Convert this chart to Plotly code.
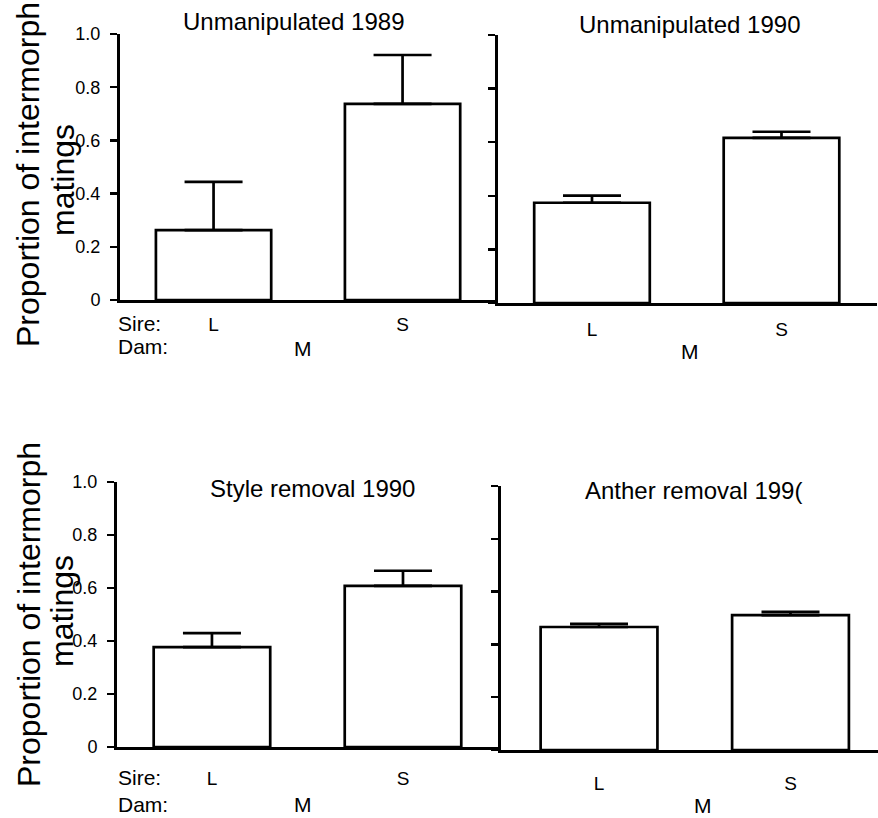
import plotly.graph_objects as go

W, H = 878, 818

# ---- data ----
sire_categories = ["L", "S"]
panel_titles = ["Unmanipulated 1989", "Unmanipulated 1990", "Style removal 1990", "Anther removal 199("]
proportion_values = [
    [0.263, 0.737],   # Unmanipulated 1989
    [0.374, 0.616],   # Unmanipulated 1990
    [0.377, 0.608],   # Style removal 1990
    [0.466, 0.511],   # Anther removal 1990
]
error_upper = [
    [0.181, 0.184],
    [0.027, 0.023],
    [0.053, 0.057],
    [0.012, 0.012],
]
y_tick_values = [0, 0.2, 0.4, 0.6, 0.8, 1.0]
y_tick_labels = ["0", "0.2", "0.4", "0.6", "0.8", "1.0"]
y_title_lines = ["Proportion of intermorph", "matings"]
dam_label = "M"

FONT = "Liberation Sans, Arial, Helvetica, sans-serif"


def fx(px):
    return px / W


def fy(py):
    return 1 - py / H


# panel geometry in pixels: (x_left, x_right, y_zero, y_one, xrange, tick standoff)
panels = [
    (120, 498, 300, 34, [-0.495, 1.505], 5),
    (498, 877, 303, 35, [-0.496, 1.504], 7),
    (117, 501, 747, 482, [-0.497, 1.513], 12),
    (501, 878, 750, 486, [-0.512, 1.457], 14),
]

fig = go.Figure()
layout = dict(
    template="none",
    width=W, height=H,
    margin=dict(l=0, r=0, t=0, b=0, pad=0, autoexpand=False),
    paper_bgcolor="white", plot_bgcolor="white",
    showlegend=False,
    font=dict(family=FONT, color="black"),
)

for i, (xl, xr, y0, y1, xr_range, standoff) in enumerate(panels):
    n = "" if i == 0 else str(i + 1)
    fig.add_trace(go.Bar(
        x=sire_categories,
        y=proportion_values[i],
        width=0.61,
        marker=dict(color="white", line=dict(color="black", width=2.7)),
        error_y=dict(type="data", symmetric=False, array=error_upper[i],
                     arrayminus=[0, 0], color="black", thickness=2.7, width=29),
        xaxis="x" + n, yaxis="y" + n,
        hoverinfo="skip",
    ))
    layout["xaxis" + n] = dict(
        domain=[fx(xl), fx(xr)], anchor="y" + n, type="category",
        range=xr_range, showline=True, linewidth=3, linecolor="black",
        ticks="", showgrid=False, zeroline=False, automargin=False,
        tickfont=dict(size=19, family=FONT, color="black"),
        ticklabelstandoff=standoff, fixedrange=True,
    )
    layout["yaxis" + n] = dict(
        domain=[fy(y0), fy(y1)], anchor="x" + n, range=[0, 1.0],
        tickvals=y_tick_values, ticktext=y_tick_labels,
        showticklabels=(i % 2 == 0),
        ticks="outside", ticklen=7, tickwidth=2.5, tickcolor="black",
        showline=True, linewidth=3, linecolor="black",
        showgrid=False, zeroline=False, automargin=False,
        tickfont=dict(size=18, family=FONT, color="black"),
        ticklabelstandoff=6, fixedrange=True,
    )

annotations = []


def ann(text, x, y, size, xanchor="center", angle=0):
    annotations.append(dict(
        text=text, x=fx(x), y=fy(y), xref="paper", yref="paper",
        xanchor=xanchor, yanchor="middle", showarrow=False, textangle=angle,
        font=dict(size=size, family=FONT, color="black"),
    ))


# panel titles
title_pos = [(294, 22), (690, 25), (312, 488), (693, 490)]
for t, (x, y) in zip(panel_titles, title_pos):
    ann(t, x, y, 24)

# y axis titles
for (x1, y1c, x2, y2c) in [(28, 175, 63, 180), (29, 615, 62, 611)]:
    ann(y_title_lines[0], x1, y1c, 32, angle=-90)
    ann(y_title_lines[1], x2, y2c, 32, angle=-90)

# Sire / Dam labels
for (ys, yd) in [(323, 347), (777, 804)]:
    ann("Sire:", 116, ys, 21, xanchor="left")
    ann("Dam:", 116, yd, 21, xanchor="left")

for (x, y) in [(303, 348), (690, 351), (303, 804), (703, 805)]:
    ann(dam_label, x, y, 21)

layout["annotations"] = annotations
fig.update_layout(**layout)
fig.write_html(
    "out.html",
    config={"displayModeBar": False, "staticPlot": True},
    post_script="document.body.style.margin='0px';document.body.style.padding='0px';",
)
